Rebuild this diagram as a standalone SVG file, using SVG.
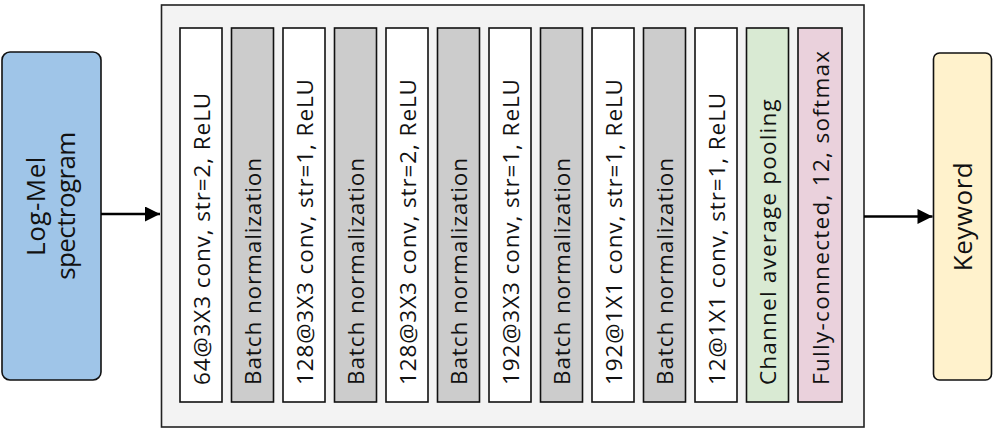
<svg xmlns="http://www.w3.org/2000/svg" width="997" height="430" viewBox="0 0 997 430">
<style>
.box{stroke:#111;stroke-width:1.6}
.conv{fill:#ffffff}
.bn{fill:#cccccc}
.pool{fill:#d9ead3}
.fc{fill:#ead1dc}
.lt{font-family:"Open Sans","DejaVu Sans",sans-serif;font-size:22.5px;fill:#111;letter-spacing:0.9px}
.big{font-family:"Open Sans","DejaVu Sans",sans-serif;font-size:26px;fill:#111;text-anchor:middle;letter-spacing:0.5px}
.conn{stroke:#000;stroke-width:2.5;fill:none}
</style>
<defs>
<marker id="arr" viewBox="0 0 10 10" refX="10" refY="5" markerWidth="7" markerHeight="6" orient="auto" markerUnits="strokeWidth">
<path d="M0,0 L10,5 L0,10 z" fill="#000"/>
</marker>
</defs>
<g id="logmel">
<rect class="box" x="2" y="52" width="99" height="328" rx="8" fill="#9fc5e8"/>
<text class="big" transform="translate(45,206) rotate(-90)"><tspan x="0" y="0">Log-Mel</tspan><tspan x="0" y="30" style="letter-spacing:-0.6px">spectrogram</tspan></text>
</g>
<g id="network">
<rect x="161.5" y="5" width="702.5" height="422" fill="#f3f3f3" stroke="#222" stroke-width="1.6"/>
<g id="layer1"><rect class="box conv" x="180" y="28" width="42" height="374"/><text class="lt" transform="translate(209.5,385) rotate(-90)">64@3X3 conv, str=2, ReLU</text></g>
<g id="layer2"><rect class="box bn" x="231.5" y="28" width="42" height="374"/><text class="lt" transform="translate(261,385) rotate(-90)">Batch normalization</text></g>
<g id="layer3"><rect class="box conv" x="283" y="28" width="42" height="374"/><text class="lt" transform="translate(312.5,385) rotate(-90)">128@3X3 conv, str=1, ReLU</text></g>
<g id="layer4"><rect class="box bn" x="334.5" y="28" width="42" height="374"/><text class="lt" transform="translate(364,385) rotate(-90)">Batch normalization</text></g>
<g id="layer5"><rect class="box conv" x="386" y="28" width="42" height="374"/><text class="lt" transform="translate(415.5,385) rotate(-90)">128@3X3 conv, str=2, ReLU</text></g>
<g id="layer6"><rect class="box bn" x="437.5" y="28" width="42" height="374"/><text class="lt" transform="translate(467,385) rotate(-90)">Batch normalization</text></g>
<g id="layer7"><rect class="box conv" x="489" y="28" width="42" height="374"/><text class="lt" transform="translate(518.5,385) rotate(-90)">192@3X3 conv, str=1, ReLU</text></g>
<g id="layer8"><rect class="box bn" x="540.5" y="28" width="42" height="374"/><text class="lt" transform="translate(570,385) rotate(-90)">Batch normalization</text></g>
<g id="layer9"><rect class="box conv" x="592" y="28" width="42" height="374"/><text class="lt" transform="translate(621.5,385) rotate(-90)">192@1X1 conv, str=1, ReLU</text></g>
<g id="layer10"><rect class="box bn" x="643.5" y="28" width="42" height="374"/><text class="lt" transform="translate(673,385) rotate(-90)">Batch normalization</text></g>
<g id="layer11"><rect class="box conv" x="695" y="28" width="42" height="374"/><text class="lt" transform="translate(724.5,385) rotate(-90)">12@1X1 conv, str=1, ReLU</text></g>
<g id="layer12"><rect class="box pool" x="746.5" y="28" width="42" height="374"/><text class="lt" transform="translate(776,385) rotate(-90)" style="letter-spacing:1.2px">Channel average pooling</text></g>
<g id="layer13"><rect class="box fc" x="798" y="28" width="44" height="374"/><text class="lt" transform="translate(828.5,385) rotate(-90)" style="letter-spacing:1.3px">Fully-connected, 12, softmax</text></g>
</g>
<g id="keyword">
<rect class="box" x="933.5" y="53" width="58" height="327" rx="6" fill="#fff2cc"/>
<text class="big" transform="translate(971.5,216.5) rotate(-90)">Keyword</text>
</g>
<g id="connectors">
<line class="conn" x1="101" y1="214" x2="160" y2="214" marker-end="url(#arr)"/>
<line class="conn" x1="864" y1="216.5" x2="932.5" y2="216.5" marker-end="url(#arr)"/>
</g>
</svg>
